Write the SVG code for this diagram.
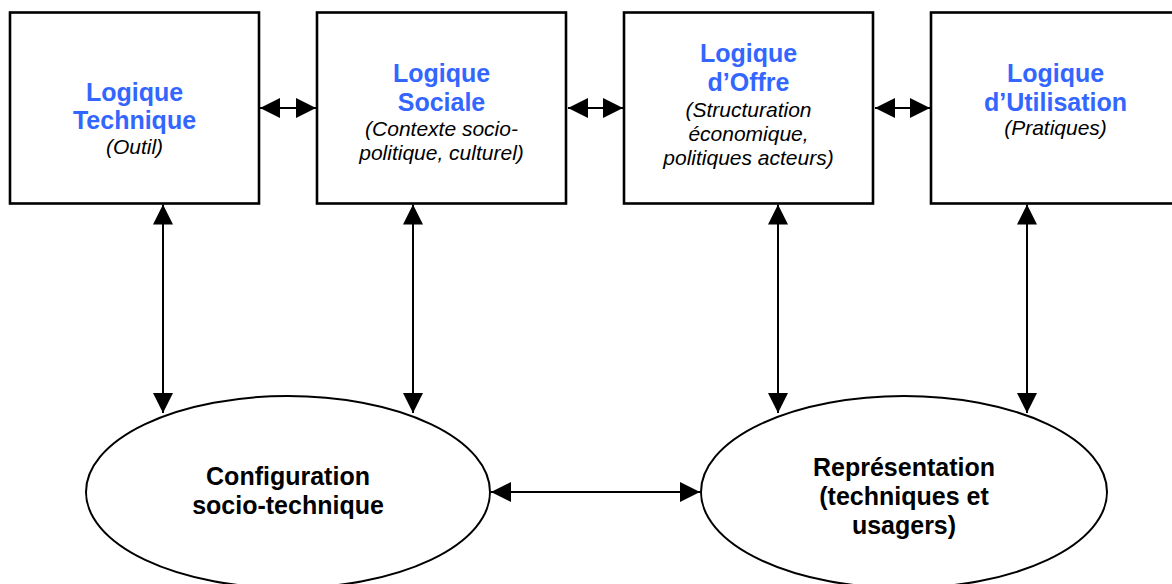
<svg xmlns="http://www.w3.org/2000/svg" width="1172" height="584" viewBox="0 0 1172 584">
<style>
.box{fill:#fff;stroke:#000;stroke-width:2.6}
.ell{fill:#fff;stroke:#000;stroke-width:2}
.t{font-family:"Liberation Sans",Arial,sans-serif;text-anchor:middle}
.b{font-weight:bold;font-size:25px;fill:#3366ff}
.i{font-style:italic;font-size:21px;fill:#000}
.k{font-weight:bold;font-size:25px;fill:#000}
.c{stroke:#000;stroke-width:2;fill:none;marker-start:url(#ah);marker-end:url(#ah)}
</style>
<defs>
<marker id="ah" markerUnits="userSpaceOnUse" markerWidth="20" markerHeight="20" refX="20" refY="10" orient="auto-start-reverse" viewBox="0 0 20 20">
<path d="M0,0 L20,10 L0,20 z" fill="#000"/>
</marker>
</defs>
<rect width="1172" height="584" fill="#fff"/>
<g id="connectors">
<line class="c" x1="260" y1="108" x2="316" y2="108"/>
<line class="c" x1="568" y1="108" x2="623" y2="108"/>
<line class="c" x1="875" y1="108" x2="930" y2="108"/>
<line class="c" x1="163" y1="204.5" x2="163" y2="413"/>
<line class="c" x1="413" y1="204.5" x2="413" y2="413"/>
<line class="c" x1="778" y1="204.5" x2="778" y2="413"/>
<line class="c" x1="1027" y1="204.5" x2="1027" y2="413"/>
<line class="c" x1="491" y1="492" x2="700" y2="492"/>
</g>
<g id="technique">
<rect class="box" x="10" y="12.5" width="249" height="191"/>
<text class="t b" x="134.5" y="101">Logique</text>
<text class="t b" x="134.5" y="129">Technique</text>
<text class="t i" x="134.5" y="154">(Outil)</text>
</g>
<g id="sociale">
<rect class="box" x="317" y="12.5" width="249" height="191"/>
<text class="t b" x="441.5" y="82">Logique</text>
<text class="t b" x="441.5" y="111">Sociale</text>
<text class="t i" x="441.5" y="136">(Contexte socio-</text>
<text class="t i" x="441.5" y="160">politique, culturel)</text>
</g>
<g id="offre">
<rect class="box" x="624" y="12.5" width="249" height="191"/>
<text class="t b" x="748.5" y="62">Logique</text>
<text class="t b" x="748.5" y="91">d’Offre</text>
<text class="t i" x="748.5" y="117">(Structuration</text>
<text class="t i" x="748.5" y="141">économique,</text>
<text class="t i" x="748.5" y="165">politiques acteurs)</text>
</g>
<g id="utilisation">
<rect class="box" x="931" y="12.5" width="249" height="191"/>
<text class="t b" x="1055.5" y="82">Logique</text>
<text class="t b" x="1055.5" y="111">d’Utilisation</text>
<text class="t i" x="1055.5" y="135">(Pratiques)</text>
</g>
<g id="configuration">
<ellipse class="ell" cx="288" cy="492" rx="202" ry="96"/>
<text class="t k" x="288" y="485">Configuration</text>
<text class="t k" x="288" y="514">socio-technique</text>
</g>
<g id="representation">
<ellipse class="ell" cx="904" cy="492" rx="203" ry="96"/>
<text class="t k" x="904" y="476">Représentation</text>
<text class="t k" x="904" y="505">(techniques et</text>
<text class="t k" x="904" y="534">usagers)</text>
</g>
</svg>
